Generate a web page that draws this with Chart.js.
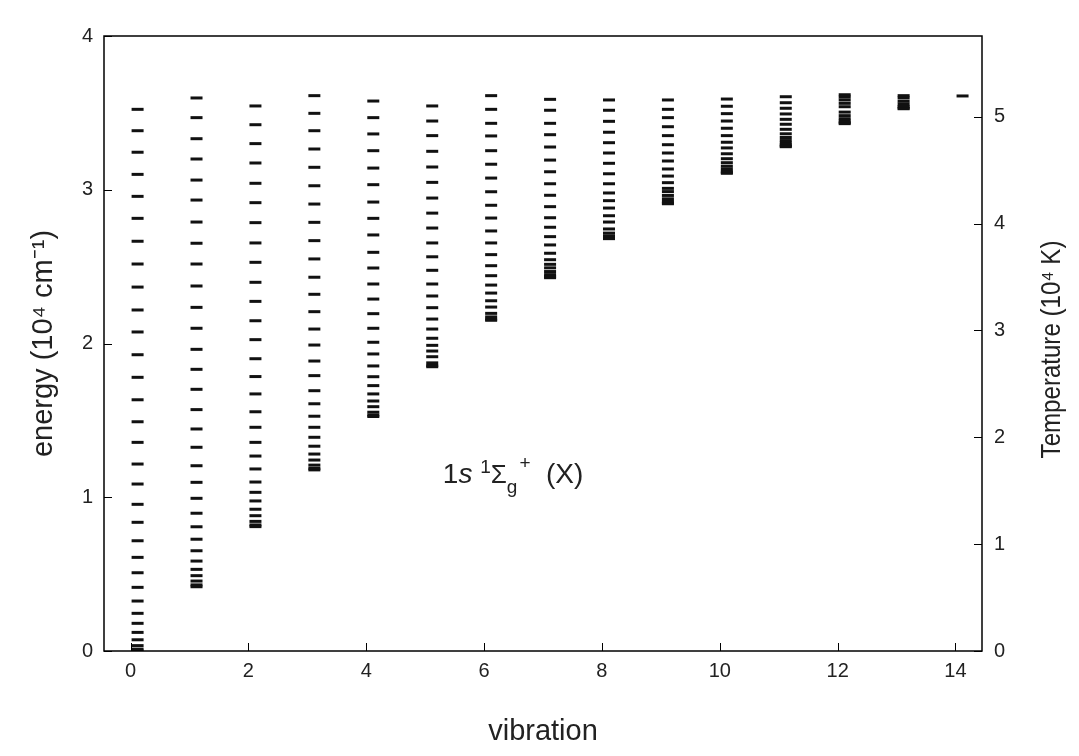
<!DOCTYPE html>
<html>
<head>
<meta charset="utf-8">
<script src="https://cdn.jsdelivr.net/npm/chart.js@4.4.1/dist/chart.umd.min.js"></script>
<style>
  body { margin: 0; background: #fff; }
</style>
</head>
<body>
<canvas id="levels-chart" width="1079" height="756"></canvas>
<script>
// vibrational level of each column
const vibration = [0, 1, 2, 3, 4, 5, 6, 7, 8, 9, 10, 11, 12, 13, 14];

// rotational level energies for each vibrational level (10^4 cm^-1)
const energyV0 = [0, 0.012, 0.035, 0.073, 0.121, 0.180, 0.245, 0.325, 0.414, 0.509, 0.609, 0.717, 0.837, 0.954, 1.086, 1.216,
  1.357, 1.491, 1.634, 1.780, 1.927, 2.075, 2.218, 2.367, 2.517, 2.665, 2.814, 2.957, 3.100, 3.244, 3.384, 3.523];
const energyV1 = [0.418, 0.430, 0.455, 0.490, 0.531, 0.585, 0.652, 0.727, 0.808, 0.896, 0.993, 1.097, 1.205, 1.325, 1.444,
  1.570, 1.702, 1.832, 1.962, 2.099, 2.235, 2.374, 2.517, 2.652, 2.790, 2.933, 3.063, 3.200, 3.332, 3.469, 3.597];
const energyV2 = [0.809, 0.820, 0.843, 0.880, 0.922, 0.976, 1.032, 1.099, 1.184, 1.268, 1.357, 1.455, 1.556, 1.672, 1.785,
  1.901, 2.025, 2.148, 2.274, 2.398, 2.528, 2.654, 2.786, 2.916, 3.042, 3.174, 3.300, 3.423, 3.545];
const energyV3 = [1.178, 1.188, 1.209, 1.242, 1.281, 1.332, 1.390, 1.455, 1.527, 1.608, 1.693, 1.791, 1.886, 1.990, 2.094,
  2.207, 2.320, 2.431, 2.550, 2.669, 2.788, 2.907, 3.026, 3.146, 3.265, 3.384, 3.497, 3.612];
const energyV4 = [1.525, 1.534, 1.553, 1.589, 1.626, 1.672, 1.726, 1.784, 1.854, 1.932, 2.008, 2.099, 2.194, 2.289, 2.387,
  2.491, 2.593, 2.706, 2.814, 2.920, 3.033, 3.141, 3.254, 3.363, 3.469, 3.577];
const energyV5 = [1.849, 1.857, 1.874, 1.914, 1.951, 1.988, 2.034, 2.094, 2.159, 2.233, 2.309, 2.387, 2.476, 2.564, 2.654,
  2.751, 2.848, 2.946, 3.048, 3.148, 3.250, 3.352, 3.447, 3.545];
const energyV6 = [2.151, 2.158, 2.173, 2.196, 2.237, 2.278, 2.328, 2.380, 2.441, 2.506, 2.578, 2.654, 2.732, 2.816, 2.899,
  2.987, 3.076, 3.166, 3.254, 3.350, 3.432, 3.523, 3.612];
const energyV7 = [2.428, 2.435, 2.448, 2.468, 2.492, 2.515, 2.545, 2.587, 2.641, 2.695, 2.756, 2.818, 2.890, 2.964, 3.039,
  3.117, 3.193, 3.278, 3.358, 3.432, 3.517, 3.588];
const energyV8 = [2.682, 2.688, 2.700, 2.718, 2.745, 2.790, 2.831, 2.881, 2.929, 2.979, 3.039, 3.104, 3.172, 3.239, 3.306,
  3.374, 3.445, 3.517, 3.584];
const energyV9 = [2.909, 2.914, 2.925, 2.941, 2.963, 2.988, 3.009, 3.046, 3.089, 3.135, 3.187, 3.239, 3.293, 3.352, 3.410,
  3.469, 3.523, 3.584];
const energyV10 = [3.107, 3.112, 3.121, 3.135, 3.153, 3.176, 3.202, 3.234, 3.272, 3.309, 3.352, 3.400, 3.447, 3.495, 3.543, 3.590];
const energyV11 = [3.280, 3.284, 3.292, 3.304, 3.320, 3.340, 3.364, 3.393, 3.426, 3.458, 3.493, 3.530, 3.566, 3.605];
const energyV12 = [3.430, 3.436, 3.447, 3.462, 3.482, 3.505, 3.540, 3.562, 3.584, 3.603, 3.618];
const energyV13 = [3.527, 3.532, 3.542, 3.556, 3.575, 3.597, 3.612];
const energyV14 = [3.610];

const energyLevels = [energyV0, energyV1, energyV2, energyV3, energyV4, energyV5, energyV6, energyV7,
  energyV8, energyV9, energyV10, energyV11, energyV12, energyV13, energyV14];

// tick labels
const vibrationTicks = [0, 2, 4, 6, 8, 10, 12, 14];
const energyTicks = [0, 1, 2, 3, 4];
const temperatureTicks = [0, 1, 2, 3, 4, 5];

// 1 cm^-1 = 1.4388 K, so the right axis is the left one scaled
const cmToK = 1.4388;

const fam = "'Liberation Sans', Arial, sans-serif";
const tickFont = { family: fam, size: 20 };
const titleFont = { family: fam, size: 29 };

// frame, inward ticks, right axis title and the state label
const frameAndLabel = {
  id: "frameAndLabel",
  afterDraw(chart) {
    const ctx = chart.ctx;
    const { left, right, top, bottom } = chart.chartArea;
    const { x, y, y2 } = chart.scales;
    ctx.save();
    ctx.strokeStyle = "#000";
    ctx.lineWidth = 1.5;
    ctx.strokeRect(left, top, right - left, bottom - top);
    ctx.beginPath();
    x.ticks.forEach(t => {
      const px = Math.round(x.getPixelForValue(t.value)) + 0.5;
      ctx.moveTo(px, bottom); ctx.lineTo(px, bottom - 8);
    });
    y.ticks.forEach(t => {
      const py = Math.round(y.getPixelForValue(t.value)) + 0.5;
      ctx.moveTo(left, py); ctx.lineTo(left + 8, py);
    });
    y2.ticks.forEach(t => {
      const py = Math.round(y2.getPixelForValue(t.value)) + 0.5;
      ctx.moveTo(right, py); ctx.lineTo(right - 8, py);
    });
    ctx.lineWidth = 1;
    ctx.stroke();

    // right axis title, read from bottom to top like the left one
    ctx.save();
    ctx.translate(y2.right - 27, (top + bottom) / 2 + 6);
    ctx.rotate(-Math.PI / 2);
    ctx.scale(0.86, 1);
    ctx.font = "28px " + fam;
    ctx.fillStyle = "#222";
    ctx.textAlign = "center";
    ctx.textBaseline = "middle";
    ctx.fillText("Temperature (10⁴ K)", 0, 0);
    ctx.restore();

    // 1s 1Σg+ (X)
    let px = x.getPixelForValue(5.3);
    const base = y.getPixelForValue(1.09);
    const parts = [
      { t: "1", f: "28px " + fam, dy: 0 },
      { t: "s", f: "italic 28px " + fam, dy: 0 },
      { t: " ", f: "28px " + fam, dy: 0 },
      { t: "1", f: "19px " + fam, dy: -10 },
      { t: "Σ", f: "26px " + fam, dy: 0 },
      { t: "g", f: "19px " + fam, dy: 10 },
      { t: "+", f: "19px " + fam, dy: -14 },
      { t: "  (X)", f: "28px " + fam, dy: 0 }
    ];
    ctx.fillStyle = "#222";
    ctx.textBaseline = "alphabetic";
    parts.forEach(p => {
      ctx.font = p.f;
      ctx.fillText(p.t, px, base + p.dy);
      px += ctx.measureText(p.t).width + (p.t === "g" ? 2 : 0);
    });
    ctx.restore();
  }
};

const ctx = document.getElementById("levels-chart").getContext("2d");
new Chart(ctx, {
  type: "scatter",
  data: {
    datasets: energyLevels.map((levels, i) => ({
      label: "v = " + vibration[i],
      data: levels.map(e => ({ x: vibration[i] + 0.12, y: e })),
      pointStyle: "line",
      pointRadius: 6,
      pointBorderWidth: 3,
      borderColor: "#111",
      backgroundColor: "#111",
      xAxisID: "x",
      yAxisID: "y"
    }))
  },
  options: {
    responsive: false,
    animation: false,
    events: [],
    layout: { padding: { top: 36, left: 0, right: 0, bottom: 0 } },
    plugins: { legend: { display: false }, tooltip: { enabled: false } },
    scales: {
      x: {
        type: "linear",
        position: "bottom",
        min: -0.45,
        max: 14.45,
        afterBuildTicks: s => { s.ticks = vibrationTicks.map(v => ({ value: v })); },
        afterFit: s => { s.height = 105; },
        grid: { display: false, drawTicks: false },
        border: { display: false },
        ticks: { font: tickFont, color: "#222", padding: 8, maxRotation: 0 },
        title: { display: true, text: "vibration", font: titleFont, color: "#222", padding: { top: 0, bottom: 7 } }
      },
      y: {
        type: "linear",
        position: "left",
        min: 0,
        max: 4,
        afterBuildTicks: s => { s.ticks = energyTicks.map(v => ({ value: v })); },
        afterFit: s => { s.width = 104; },
        grid: { display: false, drawTicks: false },
        border: { display: false },
        ticks: { font: tickFont, color: "#222", padding: 11 },
        title: { display: true, text: "energy (10⁴ cm⁻¹)", font: titleFont, color: "#222", padding: { top: 27, bottom: 0 } }
      },
      y2: {
        type: "linear",
        position: "right",
        display: true,
        min: 0,
        max: 4 * cmToK,
        afterBuildTicks: s => { s.ticks = temperatureTicks.map(v => ({ value: v })); },
        afterFit: s => { s.width = 97; },
        grid: { display: false, drawTicks: false },
        border: { display: false },
        ticks: { font: tickFont, color: "#222", padding: 12 },
        title: { display: false, text: "Temperature (10⁴ K)" }
      }
    }
  },
  plugins: [frameAndLabel]
});
</script>
</body>
</html>
